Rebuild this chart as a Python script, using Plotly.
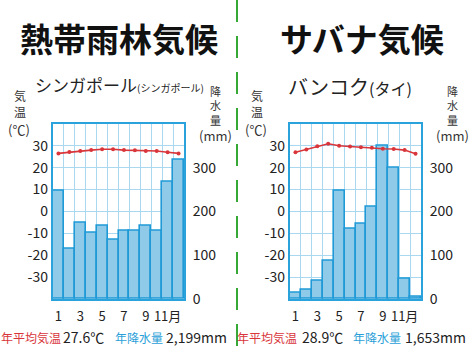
import plotly.graph_objects as go

months = list(range(1, 13))
month_ticks = [1, 3, 5, 7, 9, 11]
month_ticktext = ["1", "3", "5", "7", "9", "11月"]

sing_temp = [26.5, 27.1, 27.6, 28.0, 28.4, 28.4, 28.0, 27.9, 27.6, 27.6, 27.0, 26.5]
sing_prec = [247, 116, 175, 151, 167, 135, 155, 155, 167, 155, 267, 318]
bkk_temp = [27.0, 28.3, 29.8, 30.9, 30.0, 29.6, 29.3, 29.1, 28.6, 28.5, 28.0, 26.3]
bkk_prec = [14, 22, 42, 87, 247, 160, 171, 211, 349, 300, 47, 6]

temp_ticks = [-30, -20, -10, 0, 10, 20, 30]
temp_ticktext = ["-30", "-20", "-10", "0", "10", "20", "30"]
prec_ticks = [0, 100, 200, 300]

titles = ["熱帯雨林気候", "サバナ気候"]
W, H = 474, 355

BAR_FILL = "#8fcbe9"
BAR_LINE = "#1f9ad6"
FRAME = "#2aa2dc"
GRID = "#a9d8f0"
RED = "#d9363b"
BLUE = "#2b9fd8"
TXT = "#222222"
FONT = "Noto Sans CJK JP"

fig = go.Figure()

charts = [
    dict(prec=sing_prec, temp=sing_temp, x="x", yp="y", yt="y2", xa="xaxis", ypa="yaxis", yta="yaxis2",
         dom=[53 / W, 184 / W]),
    dict(prec=bkk_prec, temp=bkk_temp, x="x2", yp="y3", yt="y4", xa="xaxis2", ypa="yaxis3", yta="yaxis4",
         dom=[290 / W, 421 / W]),
]
ydom = [(H - 307) / H, (H - 127) / H]

layout = dict(
    width=W, height=H, margin=dict(l=0, r=0, t=0, b=0),
    paper_bgcolor="white", plot_bgcolor="rgba(0,0,0,0)",
    showlegend=False, bargap=0, font=dict(family=FONT, color=TXT, size=14),
)

for c in charts:
    fig.add_trace(go.Bar(x=months, y=c["prec"], xaxis=c["x"], yaxis=c["yp"],
                         marker=dict(color=BAR_FILL, line=dict(color=BAR_LINE, width=1.6)),
                         width=1.0))
    fig.add_trace(go.Scatter(x=months, y=c["temp"], xaxis=c["x"], yaxis=c["yt"], mode="lines+markers",
                             line=dict(color=RED, width=1.6), marker=dict(color=RED, size=4)))
    layout[c["xa"]] = dict(domain=c["dom"], range=[0.5, 12.5], anchor=c["yp"],
                           tickmode="array", tickvals=month_ticks, ticktext=month_ticktext,
                           showgrid=False, zeroline=False, showline=True, mirror=True,
                           linecolor=FRAME, linewidth=2, ticks="", tickfont=dict(size=13, color=TXT),
                           ticklabelstandoff=4,
                           minor=dict(tick0=0.5, dtick=1, showgrid=True, gridcolor=GRID, gridwidth=1, ticks=""),
                           fixedrange=True)
    layout[c["ypa"]] = dict(domain=ydom, range=[0, 400], anchor=c["x"], side="right",
                            tickmode="array", tickvals=prec_ticks, showgrid=False, zeroline=False,
                            showline=True, mirror=True, linecolor=FRAME, linewidth=2, ticks="",
                            tickfont=dict(size=14, color=TXT), ticklabelstandoff=4)
    layout[c["yta"]] = dict(range=[-40, 40], overlaying=c["yp"], anchor=c["x"], side="left",
                            tickmode="array", tickvals=temp_ticks, ticktext=temp_ticktext,
                            showgrid=True, gridcolor=GRID,
                            gridwidth=1, zeroline=False, showline=False, ticks="",
                            tickfont=dict(size=14, color=TXT), ticklabelstandoff=4)

fig.update_layout(**layout)

ann = []
def txt(x, y, s, size, color=TXT, xanchor="center", bold=False):
    ann.append(dict(x=x / W, y=1 - y / H, xref="paper", yref="paper", text=(f"<b>{s}</b>" if bold else s),
                    showarrow=False, xanchor=xanchor, yanchor="middle", borderpad=0,
                    font=dict(size=size, color=color, family=FONT)))

# big titles
txt(119, 39, titles[0], 33, "#111111", bold=True)
txt(362, 39, titles[1], 33, "#111111", bold=True)

# city subtitles
ann.append(dict(x=34 / W, y=1 - 87 / H, xref="paper", yref="paper", xanchor="left", yanchor="middle",
                showarrow=False, borderpad=0,
                text="シンガポール<span style='font-size:10px'>(シンガポール)</span>",
                font=dict(size=17, color=TXT, family=FONT)))
ann.append(dict(x=287 / W, y=1 - 89 / H, xref="paper", yref="paper", xanchor="left", yanchor="middle",
                showarrow=False, borderpad=0, text="バンコク<span style='font-size:16px'>(タイ)</span>",
                font=dict(size=20, color=TXT, family=FONT)))

# axis titles (stacked characters)
for off in (0, 237):
    txt(20 + off, 106, "気<br>温", 12, "#333333")
    txt(19 + off, 133, "(℃)", 13, "#333333")
    txt(215 + off, 108, "降<br>水<br>量", 11, "#333333")
    txt(215 + off, 139, "(mm)", 13, "#333333")

# bottom summaries
y0 = 346
txt(0, y0, "年平均気温", 12, RED, "left")
txt(62, y0, "27.6℃", 14, TXT, "left")
txt(114, y0, "年降水量", 12, BLUE, "left")
txt(165, y0, "2,199mm", 14, TXT, "left")
txt(236, y0, "年平均気温", 12, RED, "left")
txt(301, y0, "28.9℃", 14, TXT, "left")
txt(352, y0, "年降水量", 12, BLUE, "left")
txt(404, y0, "1,653mm", 14, TXT, "left")

fig.update_layout(annotations=ann)

fig.add_shape(type="line", xref="paper", yref="paper", x0=237 / W, x1=237 / W, y0=0, y1=1,
              line=dict(color="#35a835", width=2, dash="22px,14px"))

fig.write_html("out.html", config={"displayModeBar": False})
